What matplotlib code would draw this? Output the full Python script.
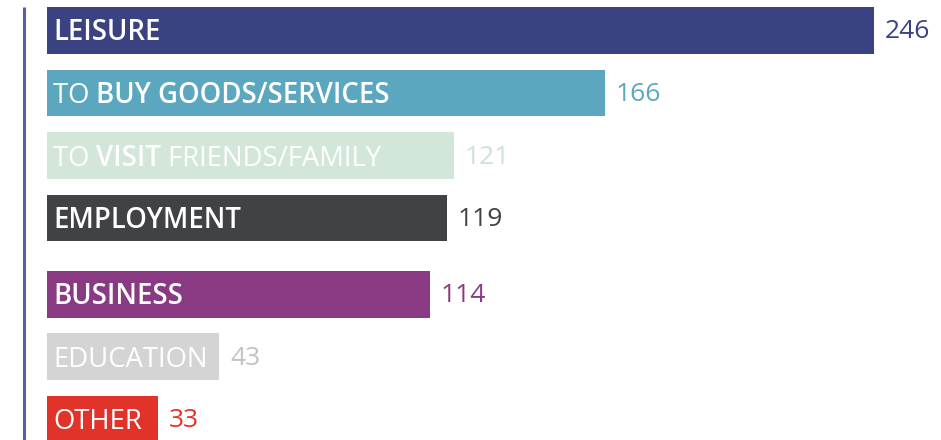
import matplotlib
matplotlib.use("Agg")
import matplotlib.pyplot as plt

categories = ["LEISURE", "TO BUY GOODS/SERVICES", "TO VISIT FRIENDS/FAMILY",
              "EMPLOYMENT", "BUSINESS", "EDUCATION", "OTHER"]
# label parts: (text, bold?)
label_parts = [
    [("LEISURE", True)],
    [("TO ", False), ("BUY GOODS/SERVICES", True)],
    [("TO ", False), ("VISIT", True), (" FRIENDS/FAMILY", False)],
    [("EMPLOYMENT", True)],
    [("BUSINESS", True)],
    [("EDUCATION", False)],
    [("OTHER", False)],
]
values = [246, 166, 121, 119, 114, 43, 33]
colors = ["#3a4282", "#5aa7bf", "#d2e7da", "#414246", "#8a3a82", "#d4d4d4", "#e2332a"]
value_colors = ["#3a4282", "#5aa7bf", "#cbe2d4", "#414246", "#8a3a82", "#c2c2c2", "#e2332a"]

W, H = 941, 440
fig = plt.figure(figsize=(W / 100, H / 100), dpi=100)
ax = fig.add_axes([0, 0, 1, 1])

px_per_unit = 3.36
x0_px = 47
ax.set_xlim(-x0_px / px_per_unit, (W - x0_px) / px_per_unit)
row_px = 62.5
first_c = 30.5
ax.set_ylim((H - first_c) / row_px, -first_c / row_px)

ypos = [i + (0.22 if i >= 4 else 0) for i in range(len(values))]
BAR_H = 0.75

FONT = ["Open Sans", "DejaVu Sans"]
LABEL_SIZE = 19.8
VALUE_SIZE = 19
ax.barh(ypos, values, height=BAR_H, color=colors, left=0)

fig.canvas.draw()
renderer = fig.canvas.get_renderer()
inv = ax.transData.inverted()

pad = 6 / px_per_unit
base_off = 10 / row_px
val_off = 8 / row_px
for y, parts, v, c, vc in zip(ypos, label_parts, values, colors, value_colors):
    prev = None
    for txt, bold in parts:
        kw = dict(fontsize=LABEL_SIZE, color="white", family=FONT,
                  fontweight="semibold" if bold else "normal", ha="left", zorder=3)
        if prev is None:
            prev = ax.text(pad, y + base_off, txt, va="baseline", **kw)
        else:
            prev = ax.annotate(txt, xy=(1, 0), xycoords=prev, textcoords="offset points",
                               xytext=(0, 0), va="bottom", **kw)
    fig.canvas.draw()
    end_px = prev.get_window_extent(renderer).x1
    end_x = inv.transform((end_px, 0))[0] + 12 / px_per_unit
    if end_x > v:
        # extend the coloured band behind a label that is longer than its bar
        ax.barh(y, end_x - v, left=v, height=BAR_H, color=c, zorder=2)
    start = max(v, end_x)
    ax.text(start + 11 / px_per_unit, y + val_off, str(v), fontsize=VALUE_SIZE, color=vc,
            family=FONT, va="baseline", ha="left")

# left vertical line
ax.plot([-23 / px_per_unit] * 2, [-(first_c - 7) / row_px, (H - first_c) / row_px],
        color="#5b5fa6", lw=2.2, solid_capstyle="butt")

ax.axis("off")
fig.savefig("out.png", dpi=100)
